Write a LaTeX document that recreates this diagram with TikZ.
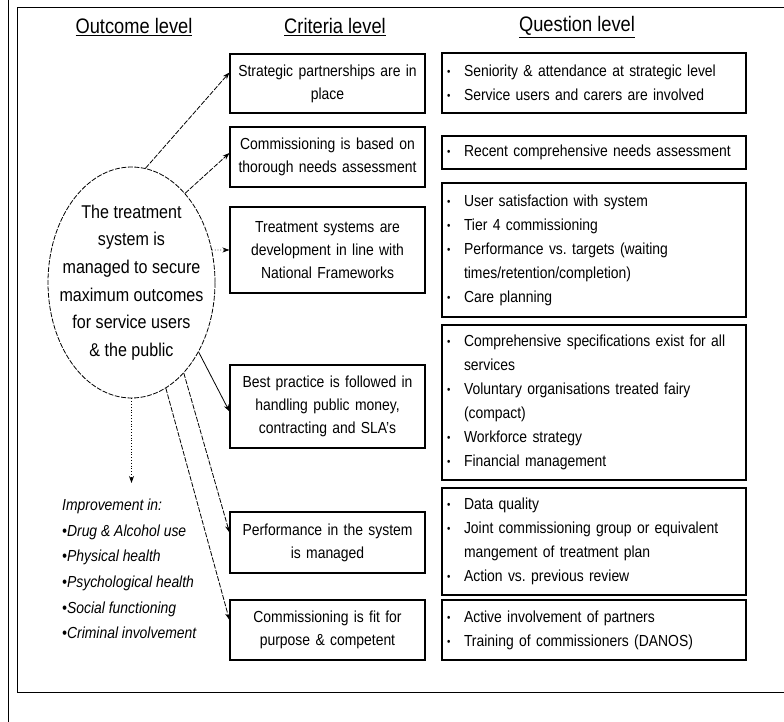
\documentclass[tikz,border=0pt]{standalone}
\usepackage{fontspec}
\setmainfont{Liberation Sans}[FakeStretch=0.87]
\usepackage{tikz}
\usetikzlibrary{positioning,shapes,arrows.meta}
\tikzset{
    criterion/.style={draw, line width=1.1pt, align=center, text width=185pt, inner xsep=5pt, inner ysep=0pt, font=\fontsize{16}{23}\selectfont},
    question/.style={draw, line width=1.1pt, align=left, text width=294pt, inner xsep=5pt, inner ysep=0pt, font=\fontsize{16}{24}\selectfont},
    heading/.style={font=\fontsize{21}{24}\selectfont},
    outcome/.style={ellipse, draw, dash pattern=on 5pt off 1.5pt, line width=0.8pt, minimum width=167pt, minimum height=231pt, inner xsep=-30pt, inner ysep=-10pt, align=center, font=\fontsize{18.5}{27.6}\selectfont},
    link/.style={line width=0.8pt, -{Stealth[length=7pt,width=5pt]}},
    broken/.style={dash pattern=on 5pt off 1.5pt}
}
\newcommand{\qitem}[1]{\makebox[17pt][l]{\raisebox{1pt}{\fontsize{11}{11}\selectfont\textbullet}}#1}
\newcommand{\qmore}[1]{\hspace*{17pt}#1}
\frenchspacing

\begin{document}
\begin{tikzpicture}[x=1pt, y=-1pt]
    \useasboundingbox (0,0) rectangle (784,722);
    \fill[white] (0,0) rectangle (784,722);
    \draw[line width=0.8pt] (8,0) -- (8,722);
    \draw[line width=0.8pt] (784,7) -- (17,7) -- (17,692) -- (784,692);

    \node[heading] (hout) at (134,27) {\underline{Outcome level}};
    \node[heading] (hcrit) at (335,27) {\underline{Criteria level}};
    \node[heading] (hques) at (577,27) {\underline{Question level}};

    \node[outcome] (goal) at (131.5,282.5) {The treatment\\system is\\managed to secure\\maximum outcomes\\for service users\\\& the public};

    \node[criterion, minimum height=59pt] (c1) at (327.5,83.5) {Strategic partnerships are in\\place};
    \node[criterion, minimum height=60pt] (c2) at (327.5,157) {Commissioning is based on\\thorough needs assessment};
    \node[criterion, minimum height=86pt] (c3) at (327.5,250) {Treatment systems are\\development in line with\\National Frameworks};
    \node[criterion, minimum height=83pt] (c4) at (327.5,406.5) {Best practice is followed in\\handling public money,\\contracting and SLA's};
    \node[criterion, minimum height=61pt] (c5) at (327.5,542.5) {Performance in the system\\is managed};
    \node[criterion, minimum height=60pt] (c6) at (327.5,630) {Commissioning is fit for\\purpose \& competent};

    \node[question, minimum height=60pt] (q1) at (594,83) {\qitem{Seniority \& attendance at strategic level}\\\qitem{Service users and carers are involved}};
    \node[question, minimum height=33pt] (q2) at (594,152.5) {\qitem{Recent comprehensive needs assessment}};
    \node[question, minimum height=134pt] (q3) at (594,250) {\qitem{User satisfaction with system}\\\qitem{Tier 4 commissioning}\\\qitem{Performance vs. targets (waiting}\\\qmore{times/retention/completion)}\\\qitem{Care planning}};
    \node[question, minimum height=155pt] (q4) at (594,402.5) {\qitem{Comprehensive specifications exist for all}\\\qmore{services}\\\qitem{Voluntary organisations treated fairy}\\\qmore{(compact)}\\\qitem{Workforce strategy}\\\qitem{Financial management}};
    \node[question, minimum height=107pt] (q5) at (594,541.5) {\qitem{Data quality}\\\qitem{Joint commissioning group or equivalent}\\\qmore{mangement of treatment plan}\\\qitem{Action vs. previous review}};
    \node[question, minimum height=60pt] (q6) at (594,630) {\qitem{Active involvement of partners}\\\qitem{Training of commissioners (DANOS)}};

    \node[anchor=north west, align=left, inner sep=0pt, font=\fontsize{16}{25.6}\selectfont\itshape] (gains) at (62,499) {Improvement in:\\\textbullet Drug \& Alcohol use\\\textbullet Physical health\\\textbullet Psychological health\\\textbullet Social functioning\\\textbullet Criminal involvement};
    \coordinate (gainsend) at (131.5,483);

    \draw[link, broken] (goal.83) -- ([yshift=11pt]c1.west);
    \draw[link, broken] (goal.59) -- ([yshift=4pt]c2.west);
    \draw[link, dotted] (goal.22) -- (c3.west);
    \draw[link] (goal.-46) -- ([yshift=-5pt]c4.west);
    \draw[link, broken] (goal.-60) -- ([yshift=10pt]c5.west);
    \draw[link, broken] (goal.-72) -- ([yshift=10pt]c6.west);
    \draw[link, dotted] (goal.south) -- (gainsend);
\end{tikzpicture}
\end{document}
